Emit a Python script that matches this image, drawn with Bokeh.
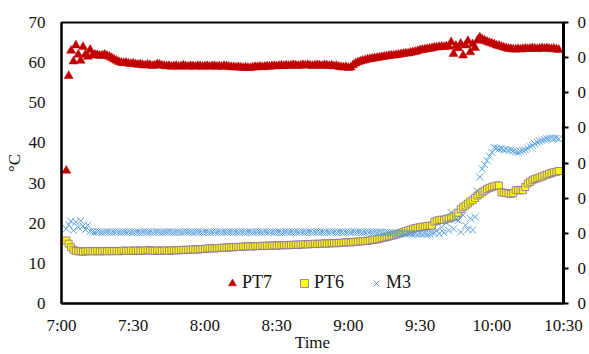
from bokeh.plotting import figure
from bokeh.models import (Range1d, LinearAxis, FixedTicker, CustomJSTickFormatter,
                          Legend, LegendItem, ColumnDataSource)
from bokeh.embed import file_html
from bokeh.resources import INLINE

# minutes after 7:00, one reading per minute (7:02 .. 10:28)
minutes = list(range(2, 209))

pt7 = [
    33.1, 56.7, 63.0, 60.3, 64.3, 62.0, 60.5, 63.9, 62.0, 61.5,
    63.2, 61.8, 62.0, 61.9, 61.7, 61.8, 62.0, 61.7, 61.5, 61.2,
    60.8, 60.5, 60.2, 60.0, 59.9, 60.0, 59.8, 59.7, 59.8, 59.6,
    59.5, 59.6, 59.4, 59.3, 59.5, 59.4, 59.2, 59.3, 59.6, 59.5,
    59.3, 59.2, 59.1, 59.2, 59.0, 59.1, 59.2, 59.0, 59.1, 59.3,
    59.1, 59.0, 59.2, 59.1, 59.0, 59.2, 59.1, 59.0, 59.1, 59.2,
    59.0, 59.1, 59.2, 59.0, 59.1, 59.0, 59.2, 59.1, 59.0, 58.9,
    58.9, 58.8, 58.9, 58.8, 58.7, 58.8, 58.7, 58.7, 58.8, 58.9,
    58.9, 59.0, 58.9, 59.0, 59.1, 59.0, 59.1, 59.2, 59.1, 59.2,
    59.3, 59.2, 59.3, 59.2, 59.3, 59.4, 59.3, 59.2, 59.3, 59.4,
    59.3, 59.4, 59.3, 59.2, 59.3, 59.4, 59.3, 59.2, 59.4, 59.3,
    59.2, 59.3, 59.1, 59.2, 59.0, 58.9, 58.8, 58.9, 58.7, 58.8,
    59.4, 59.8, 60.1, 60.3, 60.5, 60.6, 60.8, 60.9, 61.0, 61.1,
    61.2, 61.3, 61.4, 61.5, 61.6, 61.7, 61.8, 61.8, 61.9, 62.0,
    62.1, 62.2, 62.3, 62.3, 62.5, 62.6, 62.7, 62.9, 63.1, 63.2,
    63.3, 63.4, 63.5, 63.6, 63.8, 63.8, 63.9, 64.0, 63.9, 64.1,
    64.0, 65.1, 62.2, 64.2, 63.6, 64.7, 61.8, 64.3, 65.4, 62.6,
    64.6, 63.7, 65.5, 66.3, 65.8, 65.5, 65.2, 65.0, 64.8, 64.6,
    64.3, 64.2, 64.0, 63.8, 63.6, 63.5, 63.4, 63.3, 63.3, 63.4,
    63.3, 63.4, 63.5, 63.4, 63.5, 63.6, 63.5, 63.4, 63.5, 63.6,
    63.5, 63.6, 63.5, 63.4, 63.5, 63.3, 63.2,
]

pt6 = [
    15.7, 14.9, 14.0, 13.4, 13.1, 13.0, 13.0, 12.9, 13.0, 13.0,
    13.1, 13.0, 13.0, 13.1, 13.0, 13.0, 13.1, 13.0, 13.1, 13.0,
    13.1, 13.1, 13.0, 13.1, 13.2, 13.1, 13.1, 13.2, 13.1, 13.2,
    13.2, 13.1, 13.2, 13.2, 13.3, 13.2, 13.2, 13.1, 13.2, 13.2,
    13.1, 13.2, 13.2, 13.1, 13.2, 13.3, 13.2, 13.3, 13.3, 13.4,
    13.3, 13.4, 13.4, 13.5, 13.4, 13.5, 13.5, 13.6, 13.6, 13.7,
    13.7, 13.8, 13.7, 13.8, 13.8, 13.9, 13.9, 13.9, 14.0, 14.0,
    14.0, 14.1, 14.1, 14.1, 14.2, 14.2, 14.2, 14.3, 14.2, 14.3,
    14.3, 14.3, 14.4, 14.3, 14.4, 14.4, 14.4, 14.5, 14.4, 14.5,
    14.5, 14.5, 14.6, 14.5, 14.6, 14.6, 14.7, 14.6, 14.7, 14.7,
    14.8, 14.7, 14.8, 14.8, 14.9, 14.8, 14.9, 14.9, 15.0, 14.9,
    15.0, 15.0, 15.1, 15.0, 15.1, 15.1, 15.2, 15.2, 15.3, 15.2,
    15.3, 15.4, 15.4, 15.5, 15.5, 15.6, 15.6, 15.7, 15.8, 15.9,
    16.0, 16.1, 16.3, 16.4, 16.6, 16.7, 16.9, 17.0, 17.2, 17.4,
    17.6, 17.8, 18.0, 18.2, 18.4, 18.6, 18.8, 18.9, 19.0, 19.1,
    19.2, 19.3, 19.4, 19.4, 20.4, 20.6, 20.8, 20.9, 20.8, 21.1,
    21.2, 21.4, 21.6, 21.9, 22.6, 23.5, 24.0, 24.4, 24.9, 25.4,
    25.8, 26.3, 26.9, 27.3, 27.7, 28.1, 28.5, 28.8, 29.0, 29.2,
    29.4, 29.4, 27.7, 27.6, 27.5, 27.4, 27.3, 27.5, 28.2, 28.2,
    28.3, 28.2, 29.0, 29.9, 30.3, 30.7, 31.0, 31.2, 31.4, 31.6,
    31.9, 32.1, 32.3, 32.5, 32.7, 32.8, 33.0,
]

m3 = [
    18.6, 19.6, 20.5, 18.2, 20.3, 19.0, 20.6, 19.3, 18.4, 19.5,
    18.0, 17.9, 17.8, 17.9, 17.8, 17.7, 17.8, 17.9, 17.8, 17.7,
    17.8, 17.9, 17.8, 17.7, 17.8, 17.8, 17.9, 17.8, 17.7, 17.8,
    17.8, 17.7, 17.8, 17.9, 17.8, 17.8, 17.7, 17.8, 17.9, 17.8,
    17.7, 17.8, 17.8, 17.9, 17.8, 17.7, 17.8, 17.8, 17.7, 17.8,
    17.9, 17.8, 17.8, 17.7, 17.8, 17.9, 17.8, 17.7, 17.8, 17.8,
    17.7, 17.8, 17.9, 17.8, 17.8, 17.7, 17.8, 17.8, 17.9, 17.8,
    17.7, 17.8, 17.8, 17.9, 17.8, 17.7, 17.8, 17.8, 17.7, 17.8,
    17.9, 17.8, 17.7, 17.8, 17.8, 17.9, 17.8, 17.7, 17.8, 17.8,
    17.7, 17.8, 17.9, 17.8, 17.8, 17.7, 17.8, 17.8, 17.9, 17.8,
    17.7, 17.8, 17.8, 17.7, 17.8, 17.9, 17.8, 17.8, 17.7, 17.8,
    17.8, 17.9, 17.8, 17.7, 17.8, 17.8, 17.7, 17.8, 17.9, 17.8,
    17.8, 17.7, 17.8, 17.8, 17.7, 17.8, 17.9, 17.8, 17.7, 17.8,
    17.7, 17.8, 17.7, 17.6, 17.7, 17.6, 17.5, 17.6, 17.5, 17.5,
    17.4, 17.5, 17.4, 17.5, 17.4, 17.3, 17.4, 17.3, 17.4, 17.3,
    17.4, 17.3, 17.4, 17.5, 17.6, 18.2, 17.4, 19.0, 17.6, 20.1,
    18.2, 22.7, 18.6, 21.0, 20.7, 17.8, 22.0, 19.5, 18.4, 21.2,
    18.3, 21.6, 28.0, 31.5, 33.5, 34.6, 35.6, 36.7, 37.7, 38.9,
    38.7, 38.5, 38.6, 38.3, 38.4, 38.2, 38.3, 38.0, 37.8, 37.7,
    37.9, 38.1, 38.3, 38.7, 39.1, 39.4, 39.8, 40.2, 40.4, 40.6,
    40.8, 41.0, 41.1, 41.2, 41.1, 41.2, 41.0,
]

x_ticks = [0, 30, 60, 90, 120, 150, 180, 210]
x_tick_labels = ["7:00", "7:30", "8:00", "8:30", "9:00", "9:30", "10:00", "10:30"]
y_ticks = [0, 10, 20, 30, 40, 50, 60, 70]
right_ticks = [0, 1, 2, 3, 4, 5, 6, 7, 8]
x_title = "Time"
y_title = "°C"

FONT = "Liberation Serif, serif"
INK = "#111111"

src = ColumnDataSource(dict(t=minutes, pt7=pt7, pt6=pt6, m3=m3))

p = figure(width=589, height=354, x_range=Range1d(0, 210), y_range=Range1d(0, 70),
           output_backend="svg", toolbar_location=None,
           min_border_left=61, min_border_right=24, min_border_top=22,
           min_border_bottom=51)
p.background_fill_color = "white"
p.border_fill_color = "white"
p.xgrid.visible = False
p.ygrid.visible = False
p.outline_line_color = "black"
p.outline_line_width = 2

r7 = p.scatter("t", "pt7", source=src, marker="triangle", size=9,
               fill_color="#C00000", line_color="#C00000", line_width=0.5)
r6 = p.scatter("t", "pt6", source=src, marker="square", size=7,
               fill_color="#FFFF00", line_color="#8A68A8", line_width=0.8)
r3 = p.scatter("t", "m3", source=src, marker="x", size=10,
               line_color="#4F9BDB", line_width=0.9)

ya = p.yaxis[0]
ya.ticker = FixedTicker(ticks=y_ticks)
ya.axis_label = y_title
xa = p.xaxis[0]
xa.ticker = FixedTicker(ticks=x_ticks)
xa.major_label_overrides = {t: l for t, l in zip(x_ticks, x_tick_labels)}
xa.axis_label = x_title

for ax in (ya, xa):
    ax.major_tick_out = 0
    ax.major_tick_in = 0
    ax.minor_tick_out = 0
    ax.minor_tick_in = 0
    ax.axis_line_color = "black"
    ax.axis_line_width = 2
    ax.major_label_text_font = FONT
    ax.major_label_text_font_size = "17px"
    ax.major_label_text_font_style = "normal"
    ax.major_label_text_color = INK
    ax.axis_label_text_font = FONT
    ax.axis_label_text_font_size = "17px"
    ax.axis_label_text_font_style = "normal"
    ax.axis_label_text_color = INK

ya.major_label_standoff = 16
ya.axis_label_standoff = 2
xa.major_label_standoff = 12
xa.axis_label_standoff = -5

p.extra_y_ranges = {"r": Range1d(0, 8)}
ra = LinearAxis(y_range_name="r", ticker=FixedTicker(ticks=right_ticks),
                formatter=CustomJSTickFormatter(code="return '0'"))
ra.major_tick_out = 5
ra.major_tick_in = 0
ra.major_tick_line_width = 2
ra.minor_tick_out = 0
ra.minor_tick_in = 0
ra.axis_line_width = 3
ra.major_label_standoff = 9
ra.major_label_text_font = FONT
ra.major_label_text_font_size = "17px"
ra.major_label_text_color = INK
p.add_layout(ra, "right")

legend = Legend(items=[LegendItem(label="PT7", renderers=[r7]),
                       LegendItem(label="PT6", renderers=[r6]),
                       LegendItem(label="M3", renderers=[r3])],
                location=(161, 10), orientation="horizontal",
                glyph_width=20, glyph_height=20, label_standoff=0, spacing=22,
                padding=0, margin=0, border_line_color=None,
                background_fill_alpha=0,
                label_text_font=FONT, label_text_font_size="18px",
                label_text_font_style="normal",
                label_text_color=INK)
p.add_layout(legend, "center")

open("out.html", "w").write(file_html(p, INLINE))
